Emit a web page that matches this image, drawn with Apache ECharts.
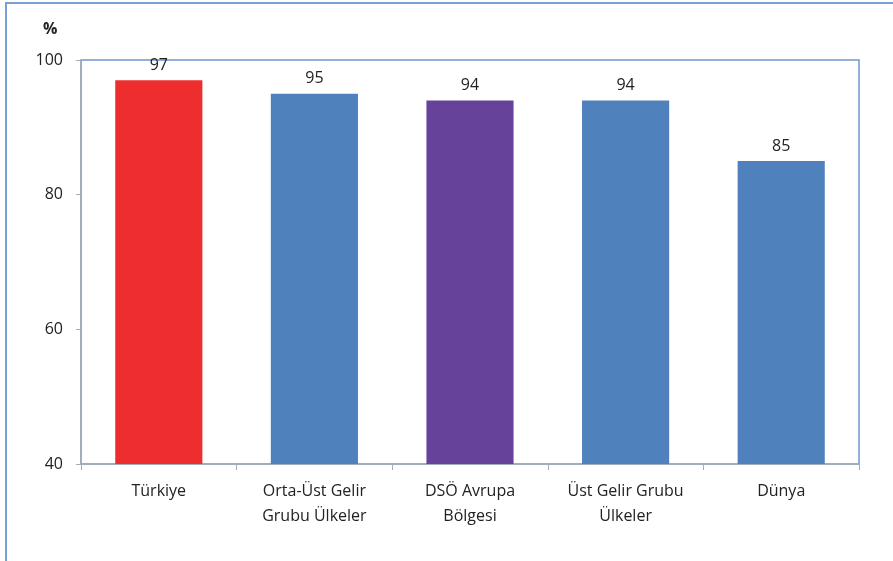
<!DOCTYPE html>
<html><head><meta charset="utf-8">
<script src="https://cdn.jsdelivr.net/npm/echarts@6/dist/echarts.min.js"></script>
<style>html,body{margin:0;padding:0;background:#fff}#c{width:893px;height:561px}</style>
</head><body><div id="c"></div>
<script>
const categories = ['Türkiye', 'Orta-Üst Gelir\nGrubu Ülkeler', 'DSÖ Avrupa\nBölgesi', 'Üst Gelir Grubu\nÜlkeler', 'Dünya'];
const values = [97, 95, 94, 94, 85];
const barColors = ['#EE2E2E', '#4F81BD', '#67429A', '#4F81BD', '#4F81BD'];
const yTicks = [40, 60, 80, 100];

const chart = echarts.init(document.getElementById('c'), null, {renderer: 'canvas'});
const font = '"Open Sans", "DejaVu Sans", sans-serif';
chart.setOption({
  animation: false,
  graphic: [
    {type: 'rect', shape: {x: 6, y: 3, width: 900, height: 600}, style: {fill: 'none', stroke: '#7A9FD3', lineWidth: 2}, z: 0},
    {type: 'text', left: 43, top: 21, style: {text: '%', font: 'bold 16px ' + font, fill: '#222'}}
  ],
  grid: {left: 81, top: 60, right: 893 - 859, bottom: 561 - 464, show: true, borderColor: '#7097CB', borderWidth: 1.5, backgroundColor: 'transparent'},
  xAxis: {
    type: 'category', data: categories,
    axisLine: {lineStyle: {color: '#A6ADB4', width: 1.5}},
    axisTick: {show: true, length: 6, lineStyle: {color: '#A6ADB4'}},
    axisLabel: {color: '#222', fontFamily: font, fontSize: 16, margin: 15, lineHeight: 25}
  },
  yAxis: {
    type: 'value', min: 40, max: 100, interval: 20,
    axisLine: {show: true, lineStyle: {color: '#A6ADB4', width: 1.5}},
    axisTick: {show: true, length: 5, lineStyle: {color: '#A6ADB4'}},
    splitLine: {show: false},
    axisLabel: {color: '#222', fontFamily: font, fontSize: 16, margin: 18,
      formatter: v => yTicks.includes(v) ? String(v) : ''}
  },
  series: [{
    type: 'bar', barWidth: '56%',
    data: values.map((v, i) => ({value: v, itemStyle: {color: barColors[i]}})),
    label: {show: true, position: 'top', distance: 7, color: '#222', fontFamily: font, fontSize: 16}
  }]
});
</script></body></html>
